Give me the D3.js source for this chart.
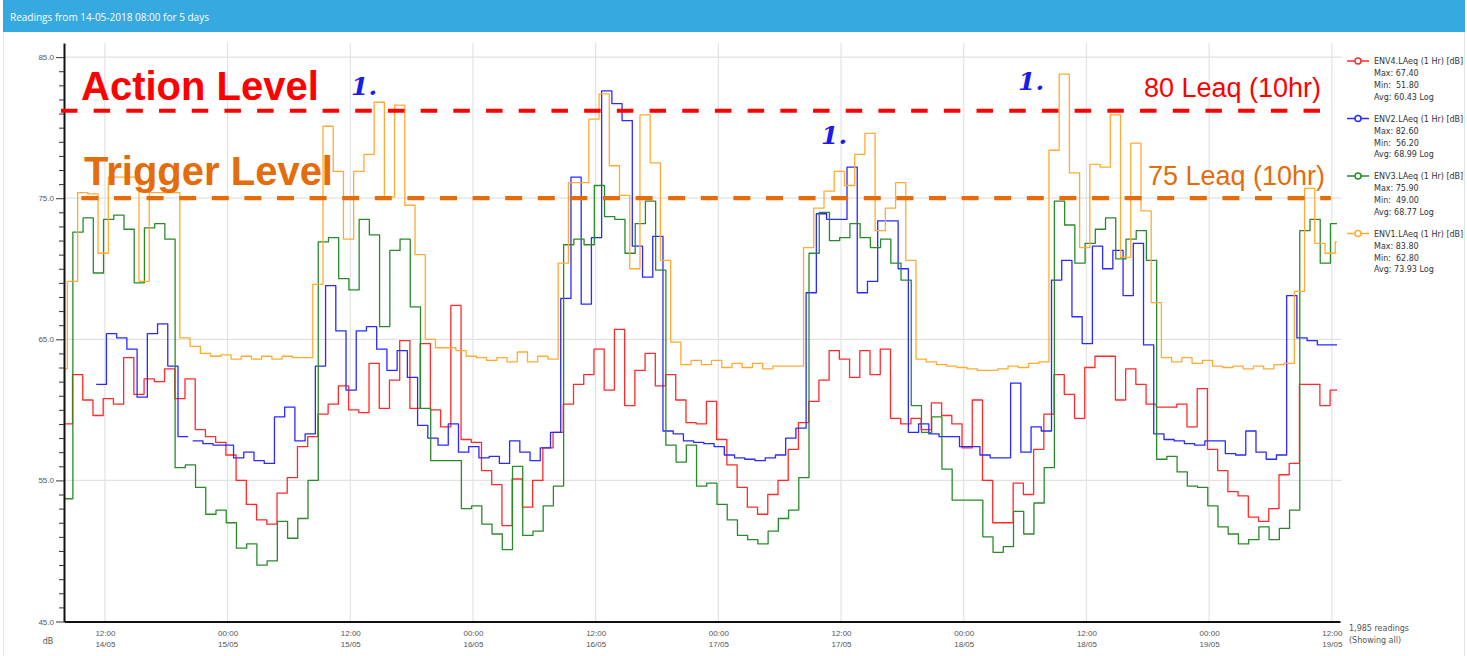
<!DOCTYPE html>
<html>
<head>
<meta charset="utf-8">
<script src="https://cdnjs.cloudflare.com/ajax/libs/d3/7.8.5/d3.min.js"></script>
<style>
  html, body { margin: 0; padding: 0; background: #fff; }
  svg { display: block; }
</style>
</head>
<body>
<svg id="chart"></svg>
<script>
// hourly LAeq (1 Hr) values
const env4 = [59.0, 62.5, 60.7, 59.6, 60.8, 60.4, 63.7, 61.1, 62.2, 62.0, 62.9, 60.8, 62.2, 58.6, 58.1, 57.7, 56.8, 55.0, 53.3, 52.2, 51.9, 54.1, 55.2, 57.4, 58.1,
  59.7, 60.4, 61.7, 60.0, 59.8, 63.3, 60.1, 62.1, 64.9, 60.1, 64.7, 60.0, 58.8, 67.4, 57.9, 57.7, 55.7, 54.7, 51.8, 55.1, 53.1, 55.0, 57.3, 58.4, 60.4,
  61.8, 62.5, 64.3, 61.4, 65.7, 60.3, 62.8, 64.0, 61.7, 62.5, 60.7, 59.1, 59.0, 60.6, 57.9, 56.1, 54.5, 53.1, 52.6, 54.0, 55.0, 57.2, 59.1, 60.6, 62.1,
  64.2, 63.6, 62.3, 64.2, 62.5, 64.3, 59.4, 59.0, 59.4, 58.6, 60.5, 59.6, 59.0, 57.3, 60.7, 55.0, 52.0, 52.0, 54.8, 54.0, 57.2, 59.7, 62.5, 61.1, 59.4,
  63.0, 63.8, 63.8, 60.7, 62.9, 61.8, 60.4, 60.2, 60.2, 60.4, 58.8, 61.5, 57.2, 55.7, 54.2, 53.9, 52.4, 52.1, 53.0, 55.4, 56.2, 61.8, 61.8, 60.3, 61.4];

// ENV2 has a gap on the first evening, so it comes in two runs
const env2a = [61.8, 65.4, 65.1, 64.3, 60.9, 65.4, 66.1, 63.1, 58.1];
const env2b = [57.8, 57.6, 57.5, 57.5, 56.6, 57.0, 56.4, 56.2, 59.5, 60.2, 57.8, 58.3,
  63.1, 68.8, 65.6, 61.4, 65.6, 65.9, 64.3, 62.8, 64.2, 62.3, 58.9, 58.0, 57.5, 59.0, 57.0, 57.4, 56.6, 56.7, 56.2, 57.8, 57.0, 56.4, 57.3, 58.4, 67.9,
  76.5, 67.5, 72.2, 82.6, 81.7, 80.5, 71.6, 69.4, 72.3, 58.5, 58.3, 57.8, 57.7, 57.6, 57.4, 56.8, 56.6, 56.5, 56.4, 56.6, 56.8, 58.0, 58.7, 68.3, 73.9,
  73.5, 73.5, 77.2, 68.3, 69.1, 73.4, 73.4, 70.0, 58.4, 59.0, 58.3, 58.1, 58.1, 57.4, 57.4, 56.8, 56.6, 56.6, 61.9, 57.0, 58.8, 58.5, 69.2, 70.6, 66.6,
  64.7, 71.6, 70.0, 71.3, 68.1, 71.8, 64.6, 58.3, 57.9, 57.8, 57.6, 57.5, 57.8, 57.8, 56.9, 56.8, 58.5, 57.0, 56.5, 56.8, 68.1, 65.1, 64.9, 64.6, 64.6];

const env3 = [53.7, 72.6, 73.6, 69.7, 73.5, 73.8, 72.8, 69.0, 72.9, 73.2, 72.1, 55.9, 56.1, 54.5, 52.6, 52.9, 52.0, 50.2, 50.5, 49.0, 49.3, 52.1, 50.9, 52.3, 55.0,
  71.9, 72.2, 69.3, 68.5, 73.5, 72.4, 65.9, 71.3, 72.1, 67.3, 60.1, 56.4, 56.4, 56.4, 53.0, 53.2, 51.9, 51.2, 50.1, 56.0, 51.1, 51.4, 53.2, 54.6, 71.7,
  72.1, 71.7, 75.9, 73.7, 73.5, 71.1, 73.2, 74.8, 69.9, 57.5, 56.3, 57.5, 54.6, 54.8, 53.3, 52.2, 51.1, 50.8, 50.5, 51.4, 52.3, 52.9, 55.2, 71.1, 74.0,
  72.0, 72.2, 73.2, 72.2, 71.5, 72.1, 70.4, 69.2, 60.3, 58.4, 59.5, 55.8, 53.6, 53.6, 53.6, 51.0, 49.9, 50.3, 52.8, 51.2, 53.4, 55.9, 74.8, 73.1, 70.4,
  71.8, 72.8, 73.6, 70.7, 72.1, 72.7, 70.6, 56.5, 56.7, 55.6, 54.6, 54.5, 53.2, 51.7, 51.2, 50.5, 50.8, 51.7, 50.8, 51.6, 52.9, 72.7, 73.5, 70.4, 73.2];

const env1 = [62.9, 69.1, 75.4, 75.3, 71.1, 76.5, 76.5, 76.5, 69.1, 75.4, 75.4, 75.4, 65.1, 64.5, 64.0, 63.8, 63.9, 63.6, 63.8, 63.6, 63.8, 63.6, 63.8, 63.7, 63.7, 68.9,
  80.1, 76.9, 72.1, 76.9, 78.1, 81.8, 75.1, 81.6, 74.5, 71.0, 65.0, 64.4, 64.4, 64.2, 63.8, 63.7, 63.5, 63.7, 63.4, 64.1, 63.4, 63.8, 63.6, 70.4, 76.1,
  76.1, 80.6, 82.4, 77.3, 75.2, 70.0, 80.9, 77.5, 70.6, 64.8, 63.2, 63.5, 63.2, 63.5, 63.0, 63.3, 63.0, 63.3, 62.9, 63.1, 63.1, 63.1, 71.5, 74.3, 75.5,
  76.9, 75.9, 78.1, 79.6, 72.7, 74.3, 76.1, 70.6, 63.6, 63.4, 63.2, 63.1, 63.0, 62.9, 62.8, 62.8, 62.9, 63.1, 63.0, 63.3, 63.4, 78.4, 83.8, 76.8, 71.5,
  77.4, 77.2, 80.9, 70.8, 78.9, 74.1, 67.6, 63.7, 63.4, 63.7, 63.3, 63.5, 63.1, 63.0, 63.1, 62.9, 63.1, 62.9, 63.2, 63.3, 68.4, 75.7, 71.8, 71.1, 71.9];

// first reading of each run, minutes after 14-05-2018 08:00
const env4StartMin = -10;
const env2aStartMin = 189;
const env2bStartMin = 755;
const env3StartMin = -8;
const env1StartMin = -40;

const seriesNames = ["ENV4.LAeq (1 Hr) [dB]", "ENV2.LAeq (1 Hr) [dB]", "ENV3.LAeq (1 Hr) [dB]", "ENV1.LAeq (1 Hr) [dB]"];
const seriesColors = ["#ff2a2a", "#2a2aff", "#2a8a2a", "#ffab33"];
const statMax = ["67.40", "82.60", "75.90", "83.80"];
const statMin = ["51.80", "56.20", "49.00", "62.80"];
const statAvg = ["60.43", "68.99", "68.77", "73.93"];

const yLabelTicks = [45, 55, 65, 75, 85];
const actionLineDb = 81.2;
const triggerLineDb = 75.0;

const t0 = new Date(2018, 4, 14, 8, 0);
const readingsEnd = new Date(2018, 4, 19, 12, 30);
const axisEnd = new Date(2018, 4, 19, 12, 48);
const HOUR = 3600e3;

const width = 1467, height = 656;
const plot = { left: 64, right: 1340, top: 43, bottom: 621.5 };

const svg = d3.select("#chart").attr("width", width).attr("height", height)
  .style("font-family", "'DejaVu Sans', Verdana, sans-serif");

// panel + header bar
svg.append("rect").attr("x", 3.5).attr("y", 0.5).attr("width", 1461).attr("height", 660)
  .attr("fill", "#fff").attr("stroke", "#e3e3e3");
svg.append("rect").attr("x", 3).attr("y", 0).attr("width", 1462).attr("height", 32).attr("fill", "#36a9e1");
svg.append("text").attr("x", 10).attr("y", 20.5)
  .attr("fill", "#fff").style("font-family", "'Open Sans', sans-serif").style("font-size", "10px")
  .text("Readings from 14-05-2018 08:00 for 5 days");

const x = d3.scaleTime().domain([t0, axisEnd]).range([plot.left, plot.right]);
const y = d3.scaleLinear().domain([45, 86]).range([plot.bottom, plot.top]);

const xTicks = x.ticks(d3.timeHour.every(12));

// grid
svg.append("g").selectAll("line").data(xTicks).join("line")
  .attr("x1", d => x(d)).attr("x2", d => x(d))
  .attr("y1", plot.top).attr("y2", plot.bottom)
  .attr("stroke", "#e2e2e2").attr("stroke-width", 1.2);
svg.append("g").selectAll("line").data(yLabelTicks.slice(1)).join("line")
  .attr("x1", plot.left).attr("x2", plot.right + 2)
  .attr("y1", d => y(d)).attr("y2", d => y(d))
  .attr("stroke", "#e2e2e2").attr("stroke-width", 1.2);

// series lines
const toPoints = (startMin, values) => {
  const pts = values.map((v, i) => ({ t: new Date(+t0 + startMin * 60e3 + i * HOUR), v }));
  pts.push({ t: new Date(+t0 + startMin * 60e3 + values.length * HOUR), v: values[values.length - 1] });
  return pts;
};
const runs = [
  { c: 0, pts: toPoints(env4StartMin, env4) },
  { c: 1, pts: toPoints(env2aStartMin, env2a) },
  { c: 1, pts: toPoints(env2bStartMin, env2b) },
  { c: 2, pts: toPoints(env3StartMin, env3) },
  { c: 3, pts: toPoints(env1StartMin, env1) },
];

svg.append("clipPath").attr("id", "clip").append("rect")
  .attr("x", x(t0)).attr("y", 0).attr("width", x(readingsEnd) - x(t0)).attr("height", height);

const line = d3.line().curve(d3.curveStepAfter).x(d => x(d.t)).y(d => y(d.v));
svg.append("g").attr("clip-path", "url(#clip)").selectAll("path").data(runs).join("path")
  .attr("fill", "none")
  .attr("stroke", d => seriesColors[d.c])
  .attr("stroke-width", 1.3)
  .attr("stroke-linejoin", "round")
  .attr("d", d => line(d.pts));

// axes
const yAxis = svg.append("g").attr("transform", `translate(${plot.left},0)`)
  .call(d3.axisLeft(y).tickValues(d3.range(45, 86)).tickSize(5).tickSizeOuter(0)
    .tickFormat(d => yLabelTicks.includes(d) ? d3.format(".1f")(d) : ""));
yAxis.select(".domain").attr("stroke", "#111").attr("stroke-width", 2);
yAxis.selectAll(".tick line").attr("stroke", "#333")
  .attr("x2", d => yLabelTicks.includes(d) ? -8 : -5);
yAxis.selectAll(".tick text").attr("x", -10).attr("fill", "#555").style("font-size", "8px");

const fmtTime = d3.timeFormat("%H:%M"), fmtDay = d3.timeFormat("%d/%m");
const xAxis = svg.append("g").attr("transform", `translate(0,${plot.bottom})`)
  .call(d3.axisBottom(x).tickValues(xTicks).tickSize(0).tickSizeOuter(0).tickFormat(""));
xAxis.select(".domain").attr("stroke", "#111").attr("stroke-width", 2);
xAxis.selectAll(".tick").each(function (d) {
  const t = d3.select(this).append("text").attr("fill", "#555").attr("text-anchor", "middle").style("font-size", "8px");
  t.append("tspan").attr("x", 0).attr("y", 14).text(fmtTime(d));
  t.append("tspan").attr("x", 0).attr("y", 25).text(fmtDay(d));
});
svg.append("text").attr("x", 48).attr("y", 644).attr("text-anchor", "middle")
  .attr("fill", "#555").style("font-size", "8px").text("dB");
const rd = svg.append("text").attr("fill", "#555").style("font-size", "8px");
rd.append("tspan").attr("x", 1349).attr("y", 631).text("1,985 readings");
rd.append("tspan").attr("x", 1349).attr("y", 643).text("(Showing all)");

// legend
const legend = svg.append("g").selectAll("g").data(seriesNames).join("g")
  .attr("transform", (d, i) => `translate(1347,${61 + i * 57.5})`);
legend.append("line").attr("x1", 0).attr("x2", 22)
  .attr("stroke", (d, i) => seriesColors[i]).attr("stroke-width", 1.5);
legend.append("circle").attr("cx", 11).attr("r", 3)
  .attr("fill", "#fff").attr("stroke", (d, i) => seriesColors[i]).attr("stroke-width", 1.5);
const lt = legend.append("text").attr("fill", "#333").style("font-size", "8px").style("white-space", "pre");
lt.append("tspan").attr("x", 27).attr("y", 3).text(d => d);
lt.append("tspan").attr("x", 27).attr("y", 15).text((d, i) => "Max: " + statMax[i]);
lt.append("tspan").attr("x", 27).attr("y", 27).text((d, i) => "Min:  " + statMin[i]);
lt.append("tspan").attr("x", 27).attr("y", 38.5).text((d, i) => "Avg: " + statAvg[i] + " Log");

// action / trigger overlays
svg.append("line")
  .attr("x1", x(new Date(+t0 - 0.3 * HOUR))).attr("x2", x(new Date(+t0 + 122.9 * HOUR)))
  .attr("y1", y(actionLineDb)).attr("y2", y(actionLineDb))
  .attr("stroke", "#ff0000").attr("stroke-width", 4.2).attr("stroke-dasharray", "16.5,16.2");
svg.append("line")
  .attr("x1", x(new Date(+t0 + 1.7 * HOUR))).attr("x2", x(new Date(+t0 + 123.9 * HOUR)))
  .attr("y1", y(triggerLineDb)).attr("y2", y(triggerLineDb))
  .attr("stroke", "#e46c0a").attr("stroke-width", 4.2).attr("stroke-dasharray", "17,15.6");

const note = (tx, ty, txt, color, size, weight) => svg.append("text")
  .attr("x", tx).attr("y", ty).attr("fill", color)
  .style("font-family", "'Liberation Sans', Arial, sans-serif")
  .style("font-size", size + "px").style("font-weight", weight).text(txt);
note(81, 100, "Action Level", "#ff0000", 40, "bold");
note(84, 185, "Trigger Level", "#e46c0a", 40, "bold");
note(1321, 97, "80 Leaq (10hr)", "#ff0000", 27, "normal").attr("text-anchor", "end");
note(1325, 185, "75 Leaq (10hr)", "#e46c0a", 27, "normal").attr("text-anchor", "end");

[[351, 95], [821, 144], [1018, 90]].forEach(([mx, my]) => {
  svg.append("text").attr("x", mx).attr("y", my).attr("fill", "#1c1ce8")
    .style("font-family", "'DejaVu Serif', serif").style("font-style", "italic")
    .style("font-weight", "bold").style("font-size", "25px").text("1.");
});
</script>
</body>
</html>
